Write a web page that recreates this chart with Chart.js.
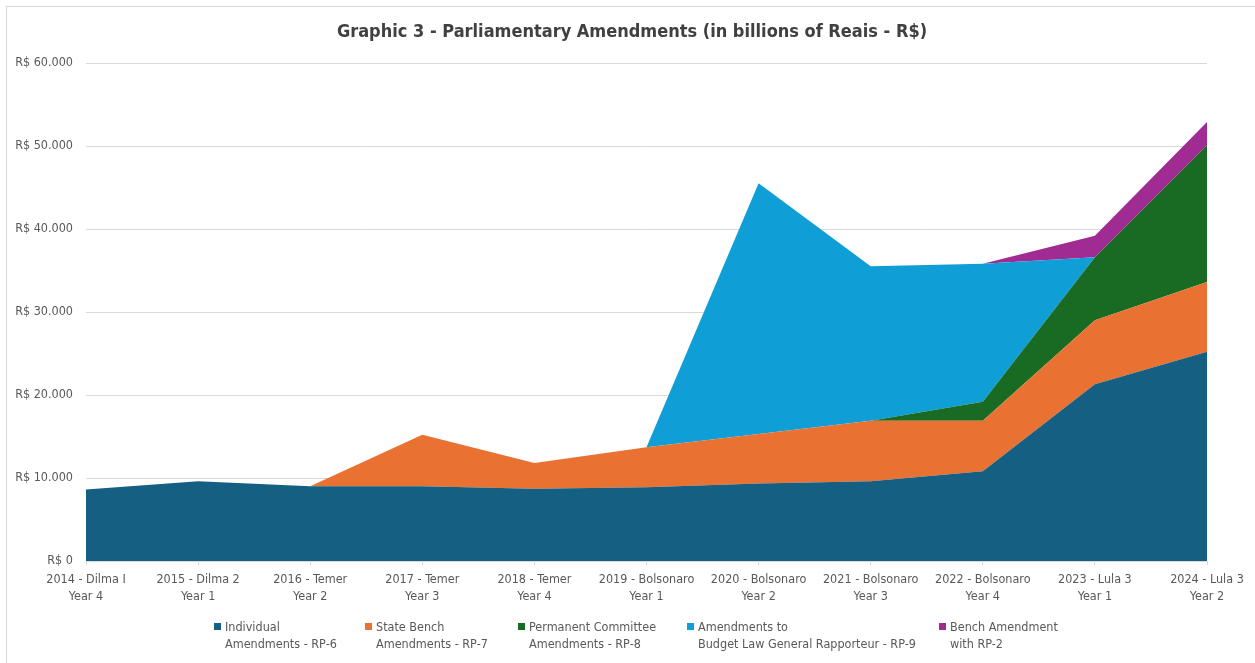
<!DOCTYPE html>
<html>
<head>
<meta charset="utf-8">
<script src="https://cdn.jsdelivr.net/npm/chart.js@4/dist/chart.umd.min.js"></script>
<style>
  html, body { margin: 0; padding: 0; background: #ffffff; }
  #wrap { position: relative; width: 1255px; height: 663px; overflow: hidden; background: #fff; }
  #frame { position: absolute; left: 6px; top: 6px; width: 1300px; height: 700px; border-left: 1px solid #d9d9d9; border-top: 1px solid #d9d9d9; pointer-events: none; }
  canvas { position: absolute; left: 0; top: 0; }
  #title { position: absolute; left: 0; width: 1264px; top: 20px; text-align: center; font-family: "Liberation Sans Narrow", "DejaVu Sans Condensed", "Arial Narrow", sans-serif; font-size: 18px; font-weight: bold; color: #404040; line-height: 22px; white-space: nowrap; }
  .lg { position: absolute; font-family: "Liberation Sans Narrow", "DejaVu Sans Condensed", "Arial Narrow", sans-serif; font-size: 12.5px; color: #595959; line-height: 17px; white-space: nowrap; }
  .lg .sw { position: absolute; left: 0; top: 5px; width: 7px; height: 7px; }
  .lg .tx { position: absolute; left: 11px; top: 0; }
</style>
</head>
<body>
<div id="wrap">
  <canvas id="c" width="1255" height="663"></canvas>
  <div id="frame"></div>
  <div id="title"></div>
  <div id="legend"></div>
</div>
<script>
// ---- data (R$ millions) ----
const yearLabels = ["2014 - Dilma I","2015 - Dilma 2","2016 - Temer","2017 - Temer","2018 - Temer","2019 - Bolsonaro","2020 - Bolsonaro","2021 - Bolsonaro","2022 - Bolsonaro","2023 - Lula 3","2024 - Lula 3"];
const termLabels = ["Year 4","Year 1","Year 2","Year 3","Year 4","Year 1","Year 2","Year 3","Year 4","Year 1","Year 2"];

const individualRP6   = [8600, 9600, 9000, 9000, 8700, 8900, 9350, 9600, 10800, 21300, 25200];
const stateBenchRP7   = [0, 0, 0, 6200, 3100, 4800, 5950, 7300, 6100, 7700, 8400];
const committeeRP8    = [0, 0, 0, 0, 0, 0, 0, 0, 2300, 7600, 16500];
const rapporteurRP9   = [0, 0, 0, 0, 0, 0, 30200, 18600, 16600, 0, 0];
const benchRP2        = [0, 0, 0, 0, 0, 0, 0, 0, 0, 2600, 2800];

const seriesNames = [
  ["Individual", "Amendments - RP-6"],
  ["State Bench", "Amendments - RP-7"],
  ["Permanent Committee", "Amendments - RP-8"],
  ["Amendments to", "Budget Law General Rapporteur - RP-9"],
  ["Bench Amendment", "with RP-2"]
];
const seriesValues = [individualRP6, stateBenchRP7, committeeRP8, rapporteurRP9, benchRP2];
const seriesColors = ["#156082", "#E97132", "#196B24", "#0F9ED5", "#A02B93"];
const legendX = [214, 365, 518, 687, 939];

const titleText = "Graphic 3 - Parliamentary Amendments (in billions of Reais - R$)";
const FONT = '"Liberation Sans Narrow", "DejaVu Sans Condensed", "Arial Narrow", sans-serif';

function fmt(v) {
  return "R$ " + String(Math.round(v)).replace(/\B(?=(\d{3})+(?!\d))/g, ".");
}

document.getElementById('title').textContent = titleText;

const datasets = seriesValues.map((vals, i) => ({
  label: seriesNames[i].join(" "),
  data: vals,
  backgroundColor: seriesColors[i],
  borderColor: seriesColors[i],
  borderWidth: 0,
  pointRadius: 0,
  pointHoverRadius: 0,
  tension: 0,
  fill: i === 0 ? 'origin' : '-1'
}));

new Chart(document.getElementById('c'), {
  type: 'line',
  data: {
    labels: yearLabels.map((y, i) => [y, termLabels[i]]),
    datasets: datasets
  },
  options: {
    responsive: false,
    animation: false,
    devicePixelRatio: 1,
    layout: { padding: { left: 0, right: 48, top: 63, bottom: 57 } },
    plugins: {
      legend: { display: false },
      tooltip: { enabled: false },
      title: { display: false }
    },
    scales: {
      x: {
        type: 'category',
        offset: false,
        grid: { display: true, drawOnChartArea: false, drawTicks: true, tickLength: 4, color: '#d9d9d9' },
        border: { display: true, color: '#d9d9d9' },
        ticks: {
          color: '#595959',
          font: { family: FONT, size: 12.5, lineHeight: 1.35 },
          padding: 6,
          maxRotation: 0,
          autoSkip: false
        },
        afterFit: (s) => { s.height = 45; }
      },
      y: {
        stacked: true,
        min: 0,
        max: 60000,
        grid: { color: '#d9d9d9', drawTicks: false, lineWidth: 1 },
        border: { display: false },
        ticks: {
          stepSize: 10000,
          color: '#595959',
          font: { family: FONT, size: 12.5 },
          padding: 13,
          callback: (v) => fmt(v)
        },
        afterFit: (s) => { s.width = 86; }
      }
    }
  }
});

// legend (HTML text)
const lg = document.getElementById('legend');
seriesNames.forEach((lines, i) => {
  const d = document.createElement('div');
  d.className = 'lg';
  d.style.left = legendX[i] + 'px';
  d.style.top = '618px';
  const sw = document.createElement('div');
  sw.className = 'sw';
  sw.style.background = seriesColors[i];
  const tx = document.createElement('div');
  tx.className = 'tx';
  tx.innerHTML = lines.map(l => l.replace(/&/g, '&amp;')).join('<br>');
  d.appendChild(sw);
  d.appendChild(tx);
  lg.appendChild(d);
});
</script>
</body>
</html>
